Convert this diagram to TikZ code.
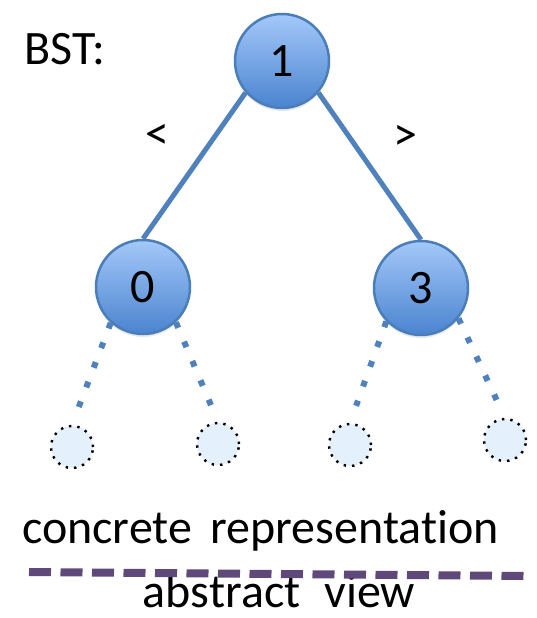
\documentclass[tikz,border=0pt]{standalone}
\usepackage{fontspec}
\setmainfont[Ligatures=NoCommon,RawFeature=-liga]{Carlito}
\usetikzlibrary{shadows}
\pgfdeclarelayer{background}
\pgfsetlayers{background,main}
\definecolor{nodetop}{HTML}{A4C8F9}
\definecolor{nodebot}{HTML}{4A84CF}
\definecolor{nodeedge}{HTML}{4A7EBB}
\definecolor{linkblue}{HTML}{4F81BD}
\definecolor{leaffill}{HTML}{E4F1FC}
\definecolor{purpleline}{HTML}{5F497A}
\begin{document}
\begin{tikzpicture}[x=1pt,y=-1pt,
  bigfont/.style={font=\fontsize{48}{58}\selectfont},
  treenode/.style={circle, minimum size=94pt, inner sep=0pt, draw=nodeedge,
    line width=2.5pt, top color=nodetop, bottom color=nodebot, bigfont,
    drop shadow={opacity=0.18, shadow xshift=0pt, shadow yshift=-3pt}},
  leafnode/.style={circle, minimum size=42pt, inner sep=0pt, draw=black,
    line width=2.4pt, dash pattern=on 2.4pt off 6pt, fill=leaffill},
  link/.style={draw=linkblue, line width=5pt},
  dotlink/.style={draw=linkblue, line width=6pt, dash pattern=on 6pt off 15pt},
  lbl/.style={bigfont, inner sep=0pt}
]
\useasboundingbox (0,0) rectangle (536,618);
\node[treenode] (n1) at (282,61) {1};
\node[treenode] (n0) at (143,287) {0};
\node[treenode] (n3) at (421,288) {3};
\node[leafnode] (l1) at (72,447) {};
\node[leafnode] (l2) at (218,444) {};
\node[leafnode] (l3) at (350,445) {};
\node[leafnode] (l4) at (505,440) {};
\begin{pgfonlayer}{background}
\draw[link] (n1.221) -- (n0.north);
\draw[link] (n1.-41) -- (n3.north);
\end{pgfonlayer}
\draw[dotlink, shorten >=18pt] (n0.228) -- (l1.north);
\draw[dotlink, shorten >=17pt] (n0.-47) -- (l2.north);
\draw[dotlink, shorten >=18pt] (n3.224) -- (l3.north);
\draw[dotlink, shorten >=17pt] (n3.-39) -- (l4.north);
\node[lbl, anchor=base west] (bst) at (24,65) {BST:};
\node[lbl] (lt) at (157,137) {<};
\node[lbl] (gt) at (405,138) {>};
\node[lbl, anchor=base west] (conc) at (22,543) {concrete\hspace{0.38em}representation};
\node[lbl, anchor=base] (abst) at (279,607) {abstract\hspace{0.5em}view};
\coordinate (dl) at (29,572);
\coordinate (dr) at (527,576);
\draw[draw=purpleline, line width=8pt, dash pattern=on 22pt off 9.5pt] (dl) -- (dr);
\end{tikzpicture}
\end{document}
